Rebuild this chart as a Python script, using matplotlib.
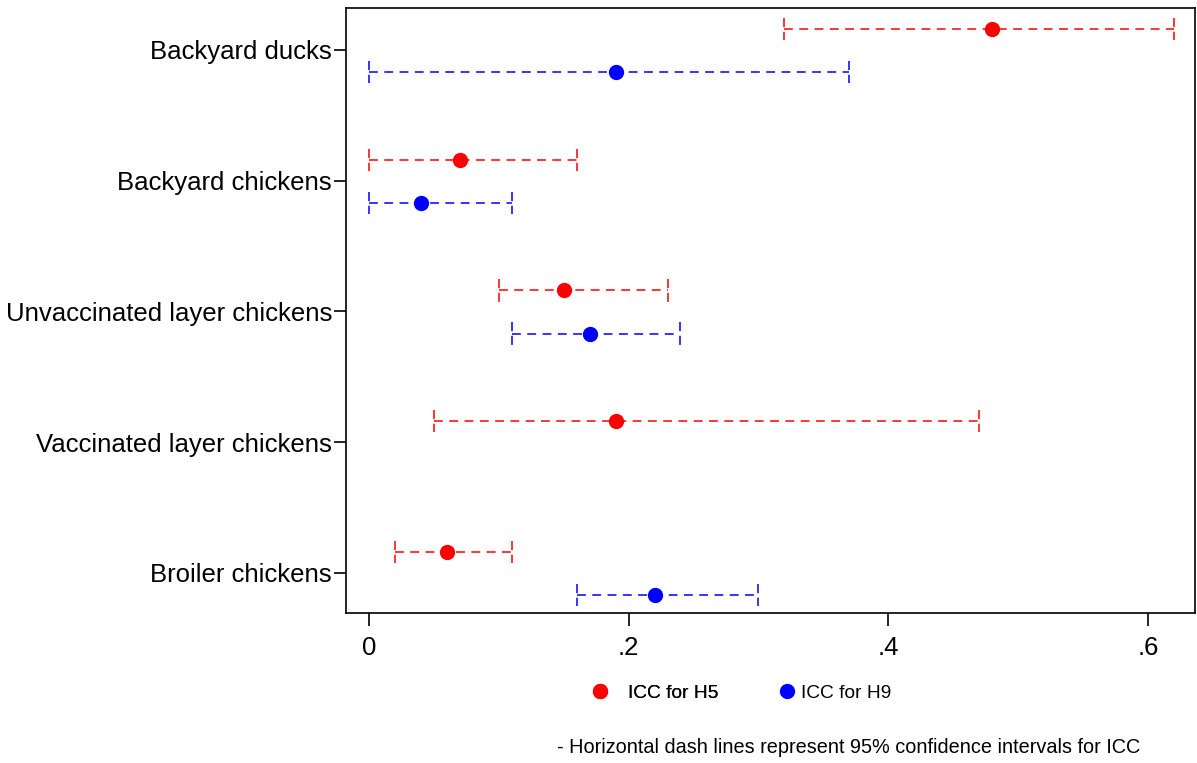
import numpy as np
import matplotlib
matplotlib.use("Agg")
from matplotlib import pyplot as plt
from matplotlib.lines import Line2D

plt.rcParams['font.family'] = ['Liberation Sans', 'DejaVu Sans']

# Data (ICC estimates and 95% CIs)
groups = ["Backyard ducks", "Backyard chickens", "Unvaccinated layer chickens",
          "Vaccinated layer chickens", "Broiler chickens"]
h5_icc = [0.48, 0.07, 0.15, 0.19, 0.06]
h5_lo = [0.32, 0.00, 0.10, 0.05, 0.02]
h5_hi = [0.62, 0.16, 0.23, 0.47, 0.11]
h9_icc = [0.19, 0.04, 0.17, np.nan, 0.22]
h9_lo = [0.00, 0.00, 0.11, np.nan, 0.16]
h9_hi = [0.37, 0.11, 0.24, np.nan, 0.30]

fig = plt.figure(figsize=(11.97, 7.63), dpi=100)
ax = fig.add_axes([0.289, 0.197, 0.709, 0.7925])

ypos = np.arange(len(groups))
off5 = -0.16
off9 = 0.17
cap = 0.085
dash = (0, (5.8, 4.2))

def draw(vals, lo, hi, off, col):
    for i in range(len(groups)):
        if np.isnan(vals[i]):
            continue
        y = ypos[i] + off
        ax.plot([lo[i], hi[i]], [y, y], color=col, lw=1.1, linestyle=dash)
        ax.plot([lo[i], lo[i]], [y - cap, y + cap], color=col, lw=1.1, linestyle=(0, (6, 3)))
        ax.plot([hi[i], hi[i]], [y - cap, y + cap], color=col, lw=1.1, linestyle=(0, (6, 3)))
        ax.plot(vals[i], y, 'o', color=col, ms=10, zorder=5)

draw(h5_icc, h5_lo, h5_hi, off5, 'red')
draw(h9_icc, h9_lo, h9_hi, off9, 'blue')

ax.set_xlim(-0.0177, 0.636)
ax.set_ylim(len(groups) - 1 + 0.305, -0.32)
ax.set_yticks(ypos)
ax.set_yticklabels(groups, fontsize=18.5)
ax.set_xticks([0, 0.2, 0.4, 0.6])
ax.set_xticklabels(['0', '.2', '.4', '.6'], fontsize=18.5)
ax.tick_params(axis='y', length=9, width=1.2, pad=1)
ax.tick_params(axis='x', length=9, width=1.2, pad=8)
for s in ax.spines.values():
    s.set_linewidth(1.2)

# legend, one entry each to match the uneven spacing
h5 = Line2D([], [], marker='o', color='red', ls='none', ms=10)
h9 = Line2D([], [], marker='o', color='blue', ls='none', ms=10)
leg1 = fig.legend([h5], ['ICC for H5'], loc='center left', bbox_to_anchor=(0.4855, 0.092),
                  frameon=False, fontsize=13.8, handlelength=2, handletextpad=0.45,
                  borderpad=0, borderaxespad=0)
fig.add_artist(leg1)
fig.legend([h9], ['ICC for H9'], loc='center left', bbox_to_anchor=(0.6495, 0.092),
           frameon=False, fontsize=13.8, handlelength=1, handletextpad=0.22,
           borderpad=0, borderaxespad=0)

fig.text(0.465, 0.02, '- Horizontal dash lines represent 95% confidence intervals for ICC',
         fontsize=14.3, ha='left', va='center')

fig.savefig('out.png', dpi=100)
